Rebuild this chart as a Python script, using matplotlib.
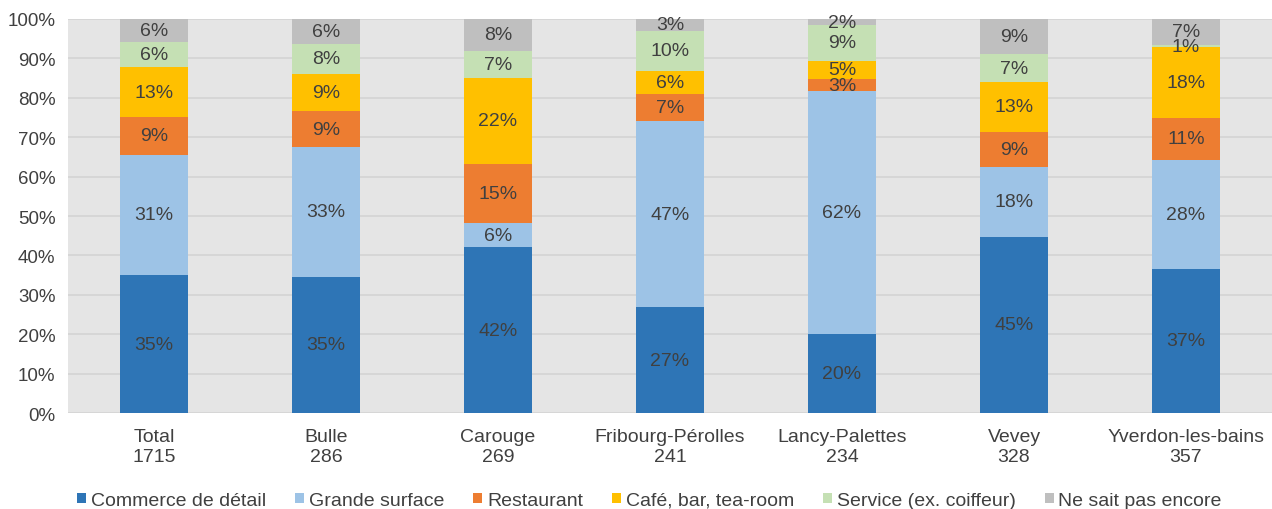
import numpy as np
import matplotlib.pyplot as plt

plt.rcParams['font.family'] = ['Liberation Sans', 'DejaVu Sans']

categories = ['Total\n1715', 'Bulle\n286', 'Carouge\n269', 'Fribourg-Pérolles\n241',
              'Lancy-Palettes\n234', 'Vevey\n328', 'Yverdon-les-bains\n357']
series_names = ['Commerce de détail', 'Grande surface', 'Restaurant',
                'Café, bar, tea-room', 'Service (ex. coiffeur)', 'Ne sait pas encore']
commerce = [35.0, 34.6, 42.1, 26.8, 20.0, 44.8, 36.6]
grande = [30.6, 32.9, 6.1, 47.2, 61.6, 17.6, 27.7]
restaurant = [9.4, 9.1, 15.0, 7.0, 3.2, 9.0, 10.6]
cafe = [12.8, 9.4, 21.8, 5.9, 4.6, 12.6, 17.9]
service = [6.4, 7.7, 6.9, 10.1, 9.0, 7.0, 0.6]
nsp = [5.8, 6.3, 8.1, 3.0, 1.6, 9.0, 6.6]
colors = ['#2e75b6', '#9dc3e6', '#ed7d31', '#ffc000', '#c5e0b4', '#bfbfbf']

series = [commerce, grande, restaurant, cafe, service, nsp]

fig = plt.figure(figsize=(12.72, 5.10), dpi=100)
ax = fig.add_axes([0.0535, 0.188, 0.9465, 0.773])
ax.set_facecolor('#e5e5e5')

x = np.arange(len(categories))
bottom = np.zeros(len(categories))
for vals, name, c in zip(series, series_names, colors):
    vals = np.array(vals)
    ax.bar(x, vals, 0.4, bottom=bottom, color=c, label=name, zorder=3)
    for xi, b, v in zip(x, bottom, vals):
        ax.text(xi, b + v / 2, '%.0f%%' % v, ha='center', va='center',
                fontsize=14, color='#404040', zorder=4)
    bottom += vals

ax.set_xlim(-0.5, 6.5)
ax.set_ylim(0, 100)
ax.set_yticks(np.arange(0, 101, 10))
ax.set_yticklabels(['%d%%' % v for v in range(0, 101, 10)])
ax.set_xticks(x)
ax.set_xticklabels(categories, linespacing=1.2)
ax.yaxis.grid(True, color='#d4d4d4', lw=1.2, zorder=0)
for s in ax.spines.values():
    s.set_visible(False)
ax.tick_params(axis='y', length=0, labelsize=13.5, labelcolor='#404040', pad=9)
ax.tick_params(axis='x', length=0, labelsize=14, labelcolor='#404040', pad=11)

ax.legend(loc='upper center', bbox_to_anchor=(0.483, -0.2), ncol=6, frameon=False,
          fontsize=14, handlelength=0.45, handleheight=0.45, handletextpad=0.25,
          columnspacing=1.5, labelcolor='#404040', borderaxespad=0, borderpad=0)

fig.savefig('out.png')
